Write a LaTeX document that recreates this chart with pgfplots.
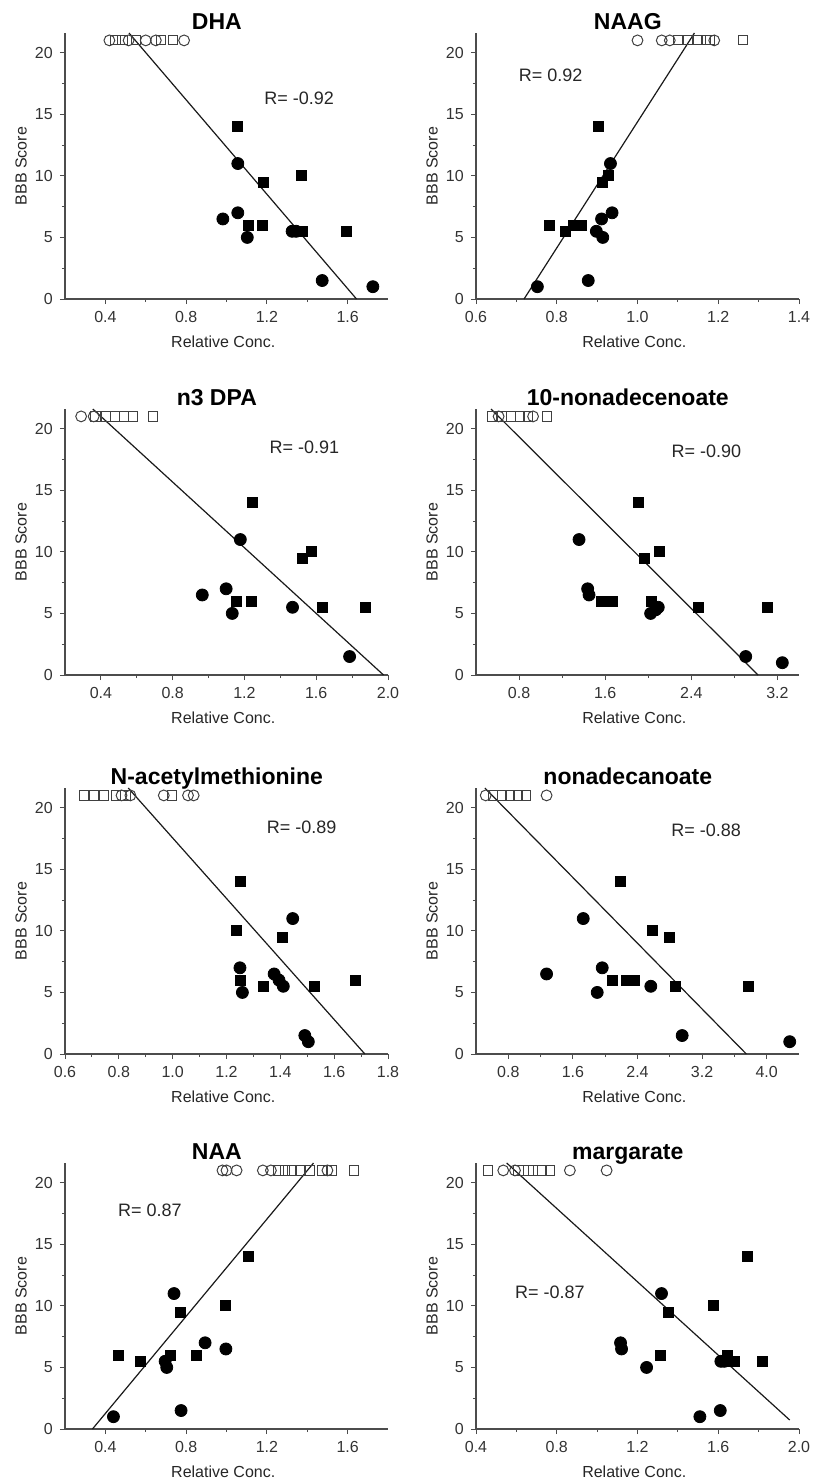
\documentclass[border=0pt]{standalone}
\usepackage{fontspec}
\setmainfont{Liberation Sans}
\usepackage{pgfplots}
\pgfplotsset{compat=1.18}

\pgfplotsset{
  panel/.style={
    scale only axis, width=161.5pt, height=133pt,
    anchor=south west,
    axis x line*=bottom, axis y line*=left,
    axis line style={-, black!70, line width=0.6pt},
    tick align=outside,
    major tick length=2.6pt, minor tick length=1.6pt,
    tick style={black!70, line width=0.5pt},
    ymin=0, ymax=21.6, ytick={0,5,10,15,20}, minor y tick num=1,
    minor x tick num=1,
    clip=false,
    /pgf/number format/assume math mode=true,
    tick label style={font=\fontsize{8}{9}\selectfont, color=black!80},
    xticklabel style={/pgf/number format/.cd, fixed, fixed zerofill, precision=1},
    yticklabel style={/pgf/number format/.cd, fixed, precision=0},
    xlabel={Relative Conc.}, ylabel={BBB Score},
    label style={font=\fontsize{8}{9}\selectfont, color=black!85},
    xlabel style={at={(axis description cs:0.49,-0.162)}, anchor=center},
    ylabel style={at={(axis description cs:-0.136,0.5)}, anchor=center},
    every axis title shift=0pt,
    title style={at={(axis description cs:0.47,1)}, anchor=base, yshift=2pt,
      font=\bfseries\fontsize{11.5}{13}\selectfont},
  },
  fsq/.style={only marks, mark=square*, mark size=2.5pt, mark options={fill=black, draw=black}},
  fci/.style={only marks, mark=*, mark size=3pt, mark options={fill=black, draw=black}},
  osq/.style={only marks, mark=square, mark size=2.3pt, mark options={draw=black!75, line width=0.5pt}},
  oci/.style={only marks, mark=o, mark size=2.7pt, mark options={draw=black!75, line width=0.5pt}},
  fit/.style={black!90, line width=0.6pt, no marks},
}
\tikzset{rlab/.style={font=\fontsize{9}{10}\selectfont, color=black!85}}

\begin{document}
\begin{tikzpicture}
\useasboundingbox (0,0) rectangle (407.5pt,-741.5pt);

% ---- row 1 ----
\begin{axis}[panel, at={(32.5pt,-149.5pt)}, title={DHA},
  xmin=0.2, xmax=1.8, xtick={0.4,0.8,1.2,1.6}]
\addplot[oci] coordinates {(0.42,21) (0.515,21) (0.60,21) (0.65,21) (0.79,21)};
\addplot[osq] coordinates {(0.45,21) (0.485,21) (0.55,21) (0.675,21) (0.735,21)};
\addplot[fit] coordinates {(0.517,21.6) (1.644,0)};
\addplot[fsq] coordinates {(1.056,14) (1.185,9.5) (1.372,10) (1.11,6) (1.18,6) (1.375,5.5) (1.594,5.5)};
\addplot[fci] coordinates {(1.056,11) (0.982,6.5) (1.056,7) (1.103,5) (1.325,5.5) (1.345,5.5) (1.474,1.5) (1.725,1)};
\node[rlab] at (axis cs:1.36,16.3) {R= -0.92};
\end{axis}

\begin{axis}[panel, at={(238pt,-149.5pt)}, title={NAAG},
  xmin=0.6, xmax=1.4, xtick={0.6,0.8,1.0,1.2,1.4}]
\addplot[oci] coordinates {(1.00,21) (1.06,21) (1.08,21) (1.19,21)};
\addplot[osq] coordinates {(1.10,21) (1.125,21) (1.15,21) (1.17,21) (1.18,21) (1.262,21)};
\addplot[fit] coordinates {(0.719,0) (1.141,21.6)};
\addplot[fsq] coordinates {(0.902,14) (0.781,6) (0.822,5.5) (0.84,6) (0.86,6) (0.914,9.5) (0.929,10)};
\addplot[fci] coordinates {(0.933,11) (0.937,7) (0.911,6.5) (0.898,5.5) (0.914,5) (0.878,1.5) (0.752,1)};
\node[rlab] at (axis cs:0.785,18.2) {R= 0.92};
\end{axis}

% ---- row 2 ----
\begin{axis}[panel, at={(32.5pt,-337.5pt)}, title={n3 DPA},
  xmin=0.2, xmax=2.0, xtick={0.4,0.8,1.2,1.6,2.0}]
\addplot[oci] coordinates {(0.29,21) (0.36,21)};
\addplot[osq] coordinates {(0.37,21) (0.43,21) (0.48,21) (0.53,21) (0.58,21) (0.69,21)};
\addplot[fit] coordinates {(0.355,21.6) (1.975,0)};
\addplot[fsq] coordinates {(1.246,14) (1.524,9.5) (1.572,10) (1.154,6) (1.24,6) (1.634,5.5) (1.876,5.5)};
\addplot[fci] coordinates {(1.177,11) (0.965,6.5) (1.098,7) (1.132,5) (1.468,5.5) (1.786,1.5)};
\node[rlab] at (axis cs:1.534,18.5) {R= -0.91};
\end{axis}

\begin{axis}[panel, at={(238pt,-337.5pt)}, title={10-nonadecenoate},
  xmin=0.4, xmax=3.4, xtick={0.8,1.6,2.4,3.2}]
\addplot[oci] coordinates {(0.61,21) (0.93,21)};
\addplot[osq] coordinates {(0.55,21) (0.64,21) (0.725,21) (0.81,21) (0.886,21) (1.056,21)};
\addplot[fit] coordinates {(0.54,21.6) (3.02,0)};
\addplot[fsq] coordinates {(1.908,14) (1.96,9.5) (2.10,10) (1.56,6) (1.666,6) (2.025,6) (2.465,5.5) (3.106,5.5)};
\addplot[fci] coordinates {(1.357,11) (1.437,7) (1.45,6.5) (2.022,5) (2.093,5.5) (2.07,5.3) (2.905,1.5) (3.245,1)};
\node[rlab] at (axis cs:2.54,18.2) {R= -0.90};
\end{axis}

% ---- row 3 ----
\begin{axis}[panel, at={(32.5pt,-527pt)}, title={N-acetylmethionine},
  xmin=0.6, xmax=1.8, xtick={0.6,0.8,1.0,1.2,1.4,1.6,1.8}]
\addplot[oci] coordinates {(0.81,21) (0.843,21) (0.967,21) (1.057,21) (1.078,21)};
\addplot[osq] coordinates {(0.67,21) (0.707,21) (0.744,21) (0.788,21) (0.825,21) (0.998,21)};
\addplot[fit] coordinates {(0.835,21.6) (1.714,0)};
\addplot[fsq] coordinates {(1.253,14) (1.235,10) (1.409,9.5) (1.253,6) (1.337,5.5) (1.525,5.5) (1.68,6)};
\addplot[fci] coordinates {(1.446,11) (1.25,7) (1.259,5) (1.377,6.5) (1.395,6) (1.411,5.5) (1.491,1.5) (1.504,1)};
\node[rlab] at (axis cs:1.479,18.4) {R= -0.89};
\end{axis}

\begin{axis}[panel, at={(238pt,-527pt)}, title={nonadecanoate},
  xmin=0.4, xmax=4.4, xtick={0.8,1.6,2.4,3.2,4.0}]
\addplot[oci] coordinates {(0.52,21) (1.274,21)};
\addplot[osq] coordinates {(0.614,21) (0.717,21) (0.82,21) (0.924,21) (1.02,21)};
\addplot[fit] coordinates {(0.51,21.6) (3.748,0)};
\addplot[fsq] coordinates {(2.194,14) (2.581,10) (2.80,9.5) (2.087,6) (2.264,6) (2.367,6) (2.874,5.5) (3.769,5.5)};
\addplot[fci] coordinates {(1.728,11) (1.274,6.5) (1.963,7) (1.901,5) (2.565,5.5) (2.953,1.5) (4.285,1)};
\node[rlab] at (axis cs:3.25,18.2) {R= -0.88};
\end{axis}

% ---- row 4 ----
\begin{axis}[panel, at={(32.5pt,-714.5pt)}, title={NAA},
  xmin=0.2, xmax=1.8, xtick={0.4,0.8,1.2,1.6}]
\addplot[oci] coordinates {(0.98,21) (1.0,21) (1.05,21) (1.18,21) (1.22,21) (1.50,21)};
\addplot[osq] coordinates {(1.258,21) (1.29,21) (1.324,21) (1.365,21) (1.415,21) (1.473,21) (1.522,21) (1.63,21)};
\addplot[fit] coordinates {(0.336,0) (1.431,21.6)};
\addplot[fsq] coordinates {(1.109,14) (0.997,10) (0.77,9.5) (0.464,6) (0.572,5.5) (0.724,6) (0.853,6)};
\addplot[fci] coordinates {(0.74,11) (0.894,7) (0.997,6.5) (0.696,5.5) (0.704,5.0) (0.775,1.5) (0.44,1)};
\node[rlab] at (axis cs:0.621,17.8) {R= 0.87};
\end{axis}

\begin{axis}[panel, at={(238pt,-714.5pt)}, title={margarate},
  xmin=0.4, xmax=2.0, xtick={0.4,0.8,1.2,1.6,2.0}]
\addplot[oci] coordinates {(0.535,21) (0.593,21) (0.865,21) (1.047,21)};
\addplot[osq] coordinates {(0.461,21) (0.61,21) (0.66,21) (0.684,21) (0.725,21) (0.766,21)};
\addplot[fit] coordinates {(0.552,21.6) (1.954,0.73)};
\addplot[fsq] coordinates {(1.745,14) (1.575,10) (1.355,9.5) (1.311,6) (1.646,6) (1.66,5.5) (1.682,5.5) (1.817,5.5)};
\addplot[fci] coordinates {(1.319,11) (1.116,7) (1.121,6.5) (1.245,5) (1.613,5.5) (1.63,5.5) (1.61,1.5) (1.509,1)};
\node[rlab] at (axis cs:0.766,11.1) {R= -0.87};
\end{axis}
\end{tikzpicture}
\end{document}
